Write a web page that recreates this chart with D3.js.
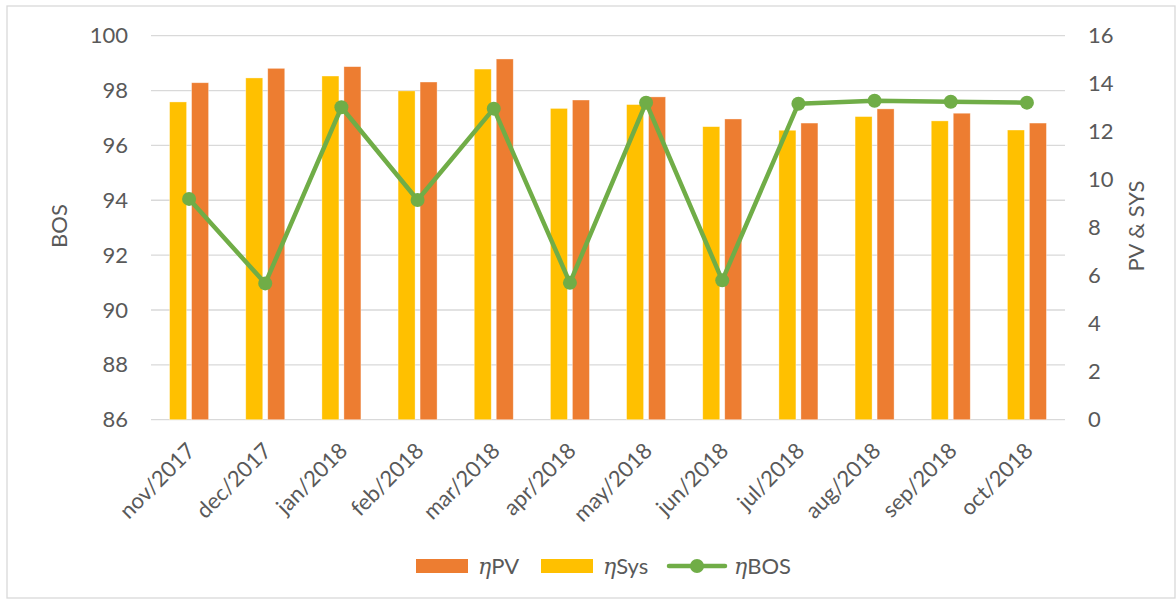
<!DOCTYPE html>
<html>
<head>
<meta charset="utf-8" />
<title>BOS, PV and Sys efficiency</title>
<script src="https://d3js.org/d3.v7.min.js"></script>
<style>
  body { margin: 0; background: #fff; }
  text { font-family: Lato, "Open Sans", sans-serif; fill: #595959; }
</style>
</head>
<body>
<svg id="chart"></svg>
<script>
var months = ["nov/2017", "dec/2017", "jan/2018", "feb/2018", "mar/2018", "apr/2018",
              "may/2018", "jun/2018", "jul/2018", "aug/2018", "sep/2018", "oct/2018"];
var etaSys = [13.24, 14.24, 14.32, 13.70, 14.61, 12.97, 13.13, 12.21, 12.06, 12.63, 12.45, 12.07];
var etaPV  = [14.04, 14.64, 14.71, 14.07, 15.03, 13.32, 13.45, 12.53, 12.36, 12.95, 12.77, 12.36];
var etaBOS = [94.05, 90.97, 97.39, 94.01, 97.34, 90.99, 97.56, 91.08, 97.52, 97.63, 97.59, 97.56];
var leftTicks = [86, 88, 90, 92, 94, 96, 98, 100];
var rightTicks = [0, 2, 4, 6, 8, 10, 12, 14, 16];

var width = 1176, height = 601;
var margin = {top: 35.7, right: 111, bottom: 181.3, left: 151};
var plotW = width - margin.left - margin.right;
var plotH = height - margin.top - margin.bottom;
var fontSize = "22px";

var svg = d3.select("#chart").attr("width", width).attr("height", height);

// outer border
svg.append("rect")
  .attr("x", 7).attr("y", 6).attr("width", 1168).attr("height", 592)
  .attr("fill", "none").attr("stroke", "#d9d9d9").attr("stroke-width", 1.3);

var x = d3.scaleBand().domain(months).range([margin.left, margin.left + plotW]);
var xSeries = d3.scaleBand().domain(["sys", "pv"])
  .range([x.bandwidth() / 2 - 19.5, x.bandwidth() / 2 + 19.5])
  .paddingInner(0.227);

var yL = d3.scaleLinear().domain([86, 100]).range([margin.top + plotH, margin.top]);
var yR = d3.scaleLinear().domain([0, 16]).range([margin.top + plotH, margin.top]);

// gridlines
svg.append("g").selectAll("line")
  .data(leftTicks)
  .join("line")
  .attr("x1", margin.left).attr("x2", margin.left + plotW)
  .attr("y1", d => yL(d)).attr("y2", d => yL(d))
  .attr("stroke", "#d9d9d9").attr("stroke-width", 1.3);

// left axis
var leftAxis = svg.append("g")
  .attr("transform", "translate(" + (margin.left - 23) + ",0)")
  .call(d3.axisLeft(yL).tickValues(leftTicks).tickSize(0).tickPadding(0));
leftAxis.select(".domain").remove();
leftAxis.selectAll("text").style("font-size", fontSize).attr("fill", "#595959");

// right axis
var rightAxis = svg.append("g")
  .attr("transform", "translate(" + (margin.left + plotW + 23) + ",0)")
  .call(d3.axisRight(yR).tickValues(rightTicks).tickSize(0).tickPadding(0));
rightAxis.select(".domain").remove();
rightAxis.selectAll("text").style("font-size", fontSize).attr("fill", "#595959");

// bars
var rows = months.map((m, i) => ({month: m, sys: etaSys[i], pv: etaPV[i]}));
var colors = {sys: "#ffc000", pv: "#ed7d31"};

var groups = svg.append("g").selectAll("g")
  .data(rows)
  .join("g")
  .attr("transform", d => "translate(" + x(d.month) + ",0)");

groups.selectAll("rect")
  .data(d => ["sys", "pv"].map(k => ({key: k, value: d[k]})))
  .join("rect")
  .attr("x", d => xSeries(d.key))
  .attr("width", xSeries.bandwidth())
  .attr("y", d => yR(d.value))
  .attr("height", d => yR(0) - yR(d.value))
  .attr("fill", d => colors[d.key])
  .attr("stroke", "#fff").attr("stroke-opacity", 0.5).attr("stroke-width", 0.7);

// BOS line
var line = d3.line()
  .x((d, i) => x(months[i]) + x.bandwidth() / 2)
  .y(d => yL(d));

svg.append("path")
  .datum(etaBOS)
  .attr("d", line)
  .attr("fill", "none")
  .attr("stroke", "#70ad47")
  .attr("stroke-width", 4.5)
  .attr("stroke-linejoin", "round");

svg.append("g").selectAll("circle")
  .data(etaBOS)
  .join("circle")
  .attr("cx", (d, i) => x(months[i]) + x.bandwidth() / 2)
  .attr("cy", d => yL(d))
  .attr("r", 7)
  .attr("fill", "#70ad47");

// x labels
svg.append("g").selectAll("text")
  .data(months)
  .join("text")
  .attr("transform", d => "translate(" + (x(d) + x.bandwidth() / 2 + 2) + "," + (margin.top + plotH + 27) + ") rotate(-45)")
  .attr("text-anchor", "end")
  .attr("dy", "0.35em")
  .style("font-size", fontSize)
  .text(d => d);

// axis titles
svg.append("text")
  .attr("transform", "translate(67,226) rotate(-90)")
  .attr("text-anchor", "middle")
  .style("font-size", fontSize)
  .text("BOS");

svg.append("text")
  .attr("transform", "translate(1144,226) rotate(-90)")
  .attr("text-anchor", "middle")
  .style("font-size", fontSize)
  .text("PV & SYS");

// legend
var legendY = 566;
var legend = svg.append("g");
var legendItems = [
  {name: "PV", type: "bar", color: colors.pv, x: 416, tx: 478},
  {name: "Sys", type: "bar", color: colors.sys, x: 541, tx: 603},
  {name: "BOS", type: "line", color: "#70ad47", x: 669, tx: 734}
];
legendItems.forEach(function(it) {
  if (it.type === "bar") {
    legend.append("rect")
      .attr("x", it.x).attr("y", legendY - 7)
      .attr("width", 52).attr("height", 14)
      .attr("fill", it.color);
  } else {
    legend.append("line")
      .attr("x1", it.x).attr("x2", it.x + 56)
      .attr("y1", legendY).attr("y2", legendY)
      .attr("stroke", it.color).attr("stroke-width", 4.5)
      .attr("stroke-linecap", "round");
    legend.append("circle")
      .attr("cx", it.x + 28).attr("cy", legendY).attr("r", 7)
      .attr("fill", it.color);
  }
  var t = legend.append("text")
    .attr("x", it.tx).attr("y", legendY)
    .attr("dy", "0.35em")
    .style("font-size", fontSize);
  t.append("tspan").style("font-style", "italic").style("font-family", "'DejaVu Serif', serif").text("η");
  t.append("tspan").text(it.name);
});
</script>
</body>
</html>
